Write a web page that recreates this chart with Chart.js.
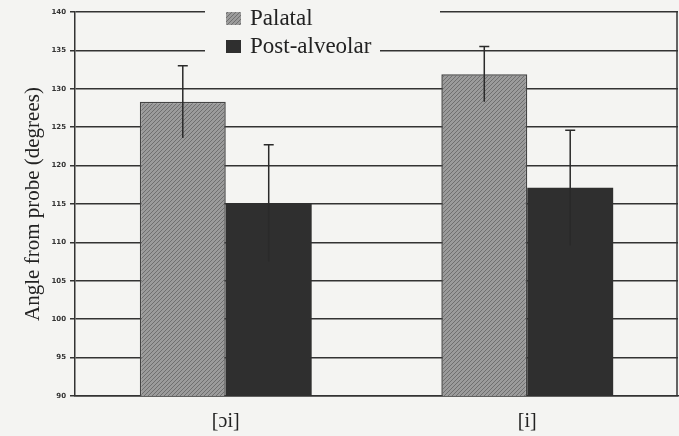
<!DOCTYPE html>
<html>
<head>
<meta charset="utf-8">
<script src="https://cdn.jsdelivr.net/npm/chart.js@4/dist/chart.umd.min.js"></script>
<style>
  html, body { margin: 0; padding: 0; background: #f4f4f2; }
  #wrap { width: 679px; height: 436px; }
</style>
</head>
<body>
<div id="wrap"><canvas id="chart" width="679" height="436"></canvas></div>
<script>
// values
const categories = ['[ɔi]', '[i]'];
const seriesNames = ['Palatal', 'Post-alveolar'];
const palatal = [128.3, 131.9];
const palatalErr = [4.7, 3.6];
const postAlveolar = [115.1, 117.1];
const postAlveolarErr = [7.6, 7.5];
const yMin = 90, yMax = 140, yStep = 5;

// grainy grey fill for the palatal bars
function makeTexture() {
  const c = document.createElement('canvas');
  c.width = 4; c.height = 4;
  const g = c.getContext('2d');
  g.fillStyle = '#9b9b9b';
  g.fillRect(0, 0, 4, 4);
  g.fillStyle = '#6f6f6f';
  g.fillRect(0, 3, 1, 1); g.fillRect(1, 2, 1, 1); g.fillRect(2, 1, 1, 1); g.fillRect(3, 0, 1, 1);
  return g.createPattern(c, 'repeat');
}
const ctx = document.getElementById('chart').getContext('2d');
const palatalFill = makeTexture();
const darkFill = '#2f2f2f';

const errorBars = {
  id: 'errorBars',
  afterDatasetsDraw(chart) {
    const c = chart.ctx;
    const y = chart.scales.y;
    const errs = [palatalErr, postAlveolarErr];
    c.save();
    c.strokeStyle = '#2a2a2a';
    c.lineWidth = 1.5;
    chart.data.datasets.forEach((ds, i) => {
      chart.getDatasetMeta(i).data.forEach((bar, j) => {
        const v = ds.data[j], e = errs[i][j];
        const top = y.getPixelForValue(v + e);
        const bot = y.getPixelForValue(v - e);
        c.beginPath();
        c.moveTo(bar.x, bot);
        c.lineTo(bar.x, top);
        c.moveTo(bar.x - 5, top);
        c.lineTo(bar.x + 5, top);
        c.stroke();
      });
    });
    c.restore();
  }
};

const frameAndLegend = {
  id: 'frameAndLegend',
  beforeDatasetsDraw(chart) {
    const c = chart.ctx;
    const a = chart.chartArea;
    c.save();
    // right border
    c.strokeStyle = '#333';
    c.lineWidth = 1.5;
    c.beginPath();
    c.moveTo(a.right - 1, a.top);
    c.lineTo(a.right - 1, a.bottom);
    c.stroke();
    // legend sits on a blank patch over the top gridlines
    c.fillStyle = '#f4f4f2';
    c.fillRect(205, 0, 235, 30);
    c.fillRect(205, 30, 175, 30);
    const fills = [palatalFill, darkFill];
    c.font = '23px "Liberation Serif", "DejaVu Serif", serif';
    c.textBaseline = 'middle';
    seriesNames.forEach((name, i) => {
      const yy = 18 + i * 28;
      c.fillStyle = fills[i];
      c.fillRect(226, yy - 6, 15, 13);
      c.fillStyle = '#222';
      c.fillText(name, 250, yy + 1);
    });
    c.restore();
  }
};

new Chart(ctx, {
  type: 'bar',
  data: {
    labels: categories,
    datasets: [
      {
        label: seriesNames[0],
        data: palatal,
        backgroundColor: palatalFill,
        borderColor: '#444',
        borderWidth: 1.5,
        borderSkipped: 'bottom'
      },
      {
        label: seriesNames[1],
        data: postAlveolar,
        backgroundColor: darkFill,
        borderWidth: 0
      }
    ]
  },
  options: {
    responsive: false,
    animation: false,
    layout: { padding: { top: 12, right: 1, left: 0, bottom: 0 } },
    datasets: { bar: { barPercentage: 1, categoryPercentage: 0.57 } },
    plugins: {
      legend: { display: false },
      tooltip: { enabled: false }
    },
    scales: {
      x: {
        grid: { display: false },
        border: { display: true, color: '#333', width: 1.5 },
        ticks: {
          color: '#222',
          font: { family: '"Liberation Serif", "DejaVu Serif", serif', size: 20 },
          padding: 6
        },
        afterFit(scale) { scale.height = 40; }
      },
      y: {
        min: yMin,
        max: yMax,
        ticks: {
          stepSize: yStep,
          color: '#333',
          font: { family: '"DejaVu Sans", sans-serif', size: 7, weight: 'bold' },
          padding: 4
        },
        grid: { color: '#333', lineWidth: 1.5, tickLength: 5 },
        border: { display: true, color: '#333', width: 1.5 },
        title: {
          display: true,
          text: 'Angle from probe (degrees)',
          color: '#222',
          font: { family: '"Liberation Serif", "DejaVu Serif", serif', size: 21 },
          padding: { top: 21, bottom: 0 }
        },
        afterFit(scale) { scale.width = 75; }
      }
    }
  },
  plugins: [frameAndLegend, errorBars]
});
</script>
</body>
</html>
